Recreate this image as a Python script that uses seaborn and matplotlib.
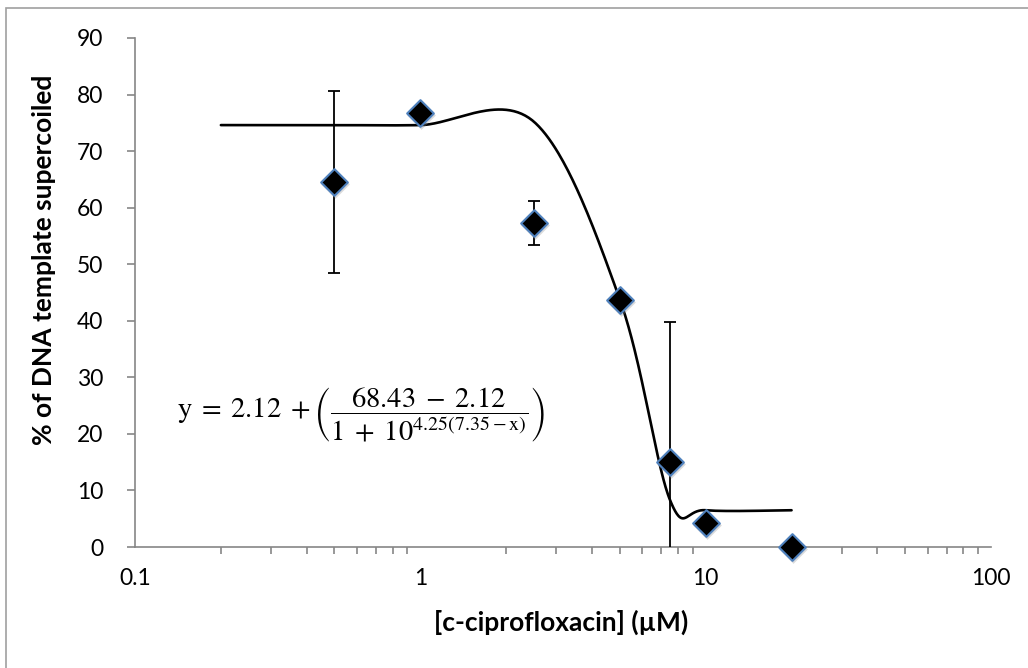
import numpy as np
import matplotlib
matplotlib.use("Agg")
import matplotlib.pyplot as plt
import matplotlib.transforms as mtransforms
from matplotlib.patches import Rectangle
import seaborn as sns
import pandas as pd

# ---------------- data ----------------
conc = [0.5, 1, 2.5, 5, 7.5, 10, 20]            # µM
pct = [64.5, 76.7, 57.3, 43.7, 15.0, 4.2, 0.0]   # % supercoiled
err = [16.1, 0.0, 3.9, 0.0, 24.7, 0.0, 0.0]      # error bar half-widths

# points of the fitted trend line (drawn as a smoothed line, as in Excel)
fit_x = [0.2, 0.5, 1, 2.5, 5, 7.5, 10, 20]
fit_y = [74.6, 74.6, 74.6, 75.2, 43.8, 8.3, 6.5, 6.5]

x_ticks = [0.1, 1, 10, 100]
x_tick_labels = ["0.1", "1", "10", "100"]
y_ticks = [0, 10, 20, 30, 40, 50, 60, 70, 80, 90]

xlabel = "[c-ciprofloxacin] (µM)"
ylabel = "% of DNA template supercoiled"
equation = (r"$\mathrm{y}\;=\;2.12\;+\left(\dfrac{68.43\;-\;2.12}"
            r"{1\;+\;10^{4.25(7.35-\mathrm{x})}}\right)$")

# ---------------- style ----------------
sns.set_theme(style="white")
FONTS = ["Lato", "DejaVu Sans"]
plt.rcParams["font.family"] = FONTS
plt.rcParams["mathtext.fontset"] = "stix"

W, H = 1028, 668
fig = plt.figure(figsize=(W / 100, H / 100), dpi=100)
ax_l, ax_r, ax_t, ax_b = 135, 991, 38, 547
ax = fig.add_axes([ax_l / W, 1 - ax_b / H, (ax_r - ax_l) / W, (ax_b - ax_t) / H])

ax.set_xscale("log")
ax.set_xlim(0.1, 100)
ax.set_ylim(0, 90)

# ---------------- smoothed trend line (Excel-like Bezier smoothing in display space) ----------------
pw = ax_r - ax_l
ph = ax_b - ax_t
u = np.log10(np.array(fit_x)) * pw / 3.0
v = np.array(fit_y) * ph / 90.0
P = np.column_stack([u, v])
n = len(P)
seg = []
tt = np.linspace(0, 1, 60)
for i in range(n - 1):
    p0 = P[i - 1] if i > 0 else P[i]
    p1 = P[i]
    p2 = P[i + 1]
    p3 = P[i + 2] if i + 2 < n else P[i + 1]
    c1 = p1 + (p2 - p0) / 6.0
    c2 = p2 - (p3 - p1) / 6.0
    b = ((1 - tt) ** 3)[:, None] * p1 + (3 * (1 - tt) ** 2 * tt)[:, None] * c1 \
        + (3 * (1 - tt) * tt ** 2)[:, None] * c2 + (tt ** 3)[:, None] * p2
    seg.append(b if i == 0 else b[1:])
curve = np.vstack(seg)
curve_df = pd.DataFrame({"x": 10 ** (curve[:, 0] * 3.0 / pw), "y": curve[:, 1] * 90.0 / ph})
sns.lineplot(data=curve_df, x="x", y="y", sort=False, estimator=None, color="black",
             linewidth=1.9, ax=ax, zorder=3)

# ---------------- error bars ----------------
ax.errorbar(conc, pct, yerr=err, fmt="none", ecolor="black", elinewidth=1.3,
            capsize=4.3, capthick=1.3, zorder=4)

# ---------------- markers with soft shadow ----------------
df = pd.DataFrame({"x": conc, "y": pct})
shadow_tr = mtransforms.offset_copy(ax.transData, fig=fig, x=1, y=-2, units="dots")
ax.scatter(conc, pct, marker="D", s=215, color="#8a8a8a", alpha=0.3, linewidths=0,
           transform=shadow_tr, zorder=5, clip_on=False)
sns.scatterplot(data=df, x="x", y="y", marker="D", s=185, color="black",
                edgecolor="#4F81BD", linewidth=1.5, ax=ax, zorder=6, clip_on=False)

# ---------------- axes styling ----------------
spine_c = "#868686"
for s in ["top", "right"]:
    ax.spines[s].set_visible(False)
for s in ["left", "bottom"]:
    ax.spines[s].set_color(spine_c)
    ax.spines[s].set_linewidth(1.2)

ax.set_xticks(x_ticks)
ax.set_xticklabels(x_tick_labels)
ax.set_yticks(y_ticks)
ax.xaxis.set_minor_locator(matplotlib.ticker.LogLocator(base=10, subs=np.arange(2, 10)))
ax.xaxis.set_minor_formatter(matplotlib.ticker.NullFormatter())
ax.tick_params(axis="x", which="major", direction="inout", length=10, width=1.2,
               color=spine_c, labelsize=16.5, pad=10, labelcolor="black")
ax.tick_params(axis="x", which="minor", direction="out", length=5, width=1.2,
               color=spine_c, bottom=True)
ax.tick_params(axis="y", which="major", direction="out", length=6, width=1.2,
               color=spine_c, labelsize=16.5, pad=17, labelcolor="black", left=True)

ax.set_xlabel(xlabel, fontsize=19, fontweight="bold", color="black")
ax.set_ylabel(ylabel, fontsize=19, fontweight="bold", color="black")
ax.xaxis.set_label_coords((561 - ax_l) / pw, -(610 - ax_b) / ph)
ax.yaxis.set_label_coords(-(ax_l - 56) / pw, (ax_b - 260) / ph)
ax.grid(False)

# equation text
ax.text(0.14, 23.3, equation, fontsize=20.5, color="black", ha="left", va="center", zorder=7)

# outer border of the chart area
fig.patches.append(Rectangle((6 / W, -0.05), 1.2, 1 - 8 / H + 0.05, transform=fig.transFigure,
                             fill=False, edgecolor="#a0a0a0", linewidth=1.2, zorder=0))

fig.savefig("out.png", dpi=100, facecolor="white")
